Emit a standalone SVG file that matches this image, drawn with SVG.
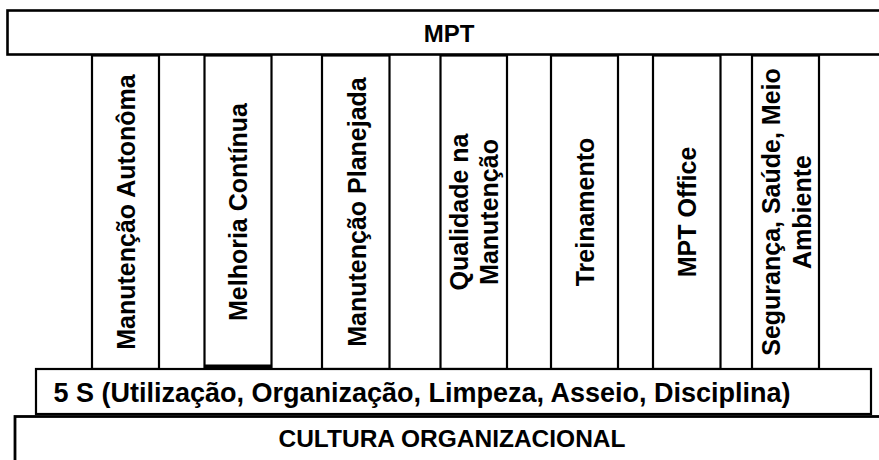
<svg xmlns="http://www.w3.org/2000/svg" width="879" height="460" viewBox="0 0 879 460">
<style>
.box{fill:#fff;stroke:#000;stroke-width:2.2}
.t{font-family:"Liberation Sans",Arial,sans-serif;font-weight:bold;fill:#000;text-anchor:middle}
.v{font-size:25px}
</style>
<rect x="0" y="0" width="879" height="460" fill="#fff"/>
<g id="mpt">
<rect class="box" x="7.5" y="10.5" width="880" height="44" style="stroke-width:2.6"/>
<text class="t" x="449" y="41.5" style="font-size:24px">MPT</text>
</g>
<g id="pilar-manutencao-autonoma">
<rect class="box" x="92" y="55.5" width="67" height="313.5"/>
<text class="t v" transform="translate(135,212) rotate(-90)">Manutenção Autonôma</text>
</g>
<g id="pilar-melhoria-continua">
<rect class="box" x="204.5" y="55.5" width="67" height="311.5"/>
<line x1="204.5" y1="366.5" x2="271.5" y2="366.5" stroke="#000" stroke-width="4"/>
<text class="t v" transform="translate(247,212) rotate(-90)">Melhoria Contínua</text>
</g>
<g id="pilar-manutencao-planejada">
<rect class="box" x="322" y="55.5" width="67.5" height="313.5"/>
<text class="t v" transform="translate(365.5,212) rotate(-90)">Manutenção Planejada</text>
</g>
<g id="pilar-qualidade">
<rect class="box" x="440.5" y="55.5" width="66.5" height="313.5"/>
<text class="t v" transform="translate(468,212) rotate(-90)">Qualidade na</text>
<text class="t v" transform="translate(498,212) rotate(-90)">Manutenção</text>
</g>
<g id="pilar-treinamento">
<rect class="box" x="551" y="55.5" width="67" height="313.5"/>
<text class="t v" transform="translate(593.5,212) rotate(-90)">Treinamento</text>
</g>
<g id="pilar-mpt-office">
<rect class="box" x="653" y="55.5" width="67.5" height="313.5"/>
<text class="t v" transform="translate(696,212) rotate(-90)">MPT Office</text>
</g>
<g id="pilar-seguranca">
<rect class="box" x="752" y="55.5" width="67" height="313.5"/>
<text class="t v" transform="translate(780,212) rotate(-90)">Segurança, Saúde, Meio</text>
<text class="t v" transform="translate(810.5,212) rotate(-90)">Ambiente</text>
</g>
<g id="cinco-s">
<rect class="box" x="36" y="369" width="835" height="45"/>
<text class="t" x="422" y="401.5" style="font-size:27px">5 S (Utilização, Organização, Limpeza, Asseio, Disciplina)</text>
</g>
<g id="cultura-organizacional">
<rect class="box" x="15" y="416.5" width="880" height="60" style="stroke-width:2.8"/>
<text class="t" x="452" y="447" style="font-size:24.5px">CULTURA ORGANIZACIONAL</text>
</g>
<g id="connectors"/>
</svg>
